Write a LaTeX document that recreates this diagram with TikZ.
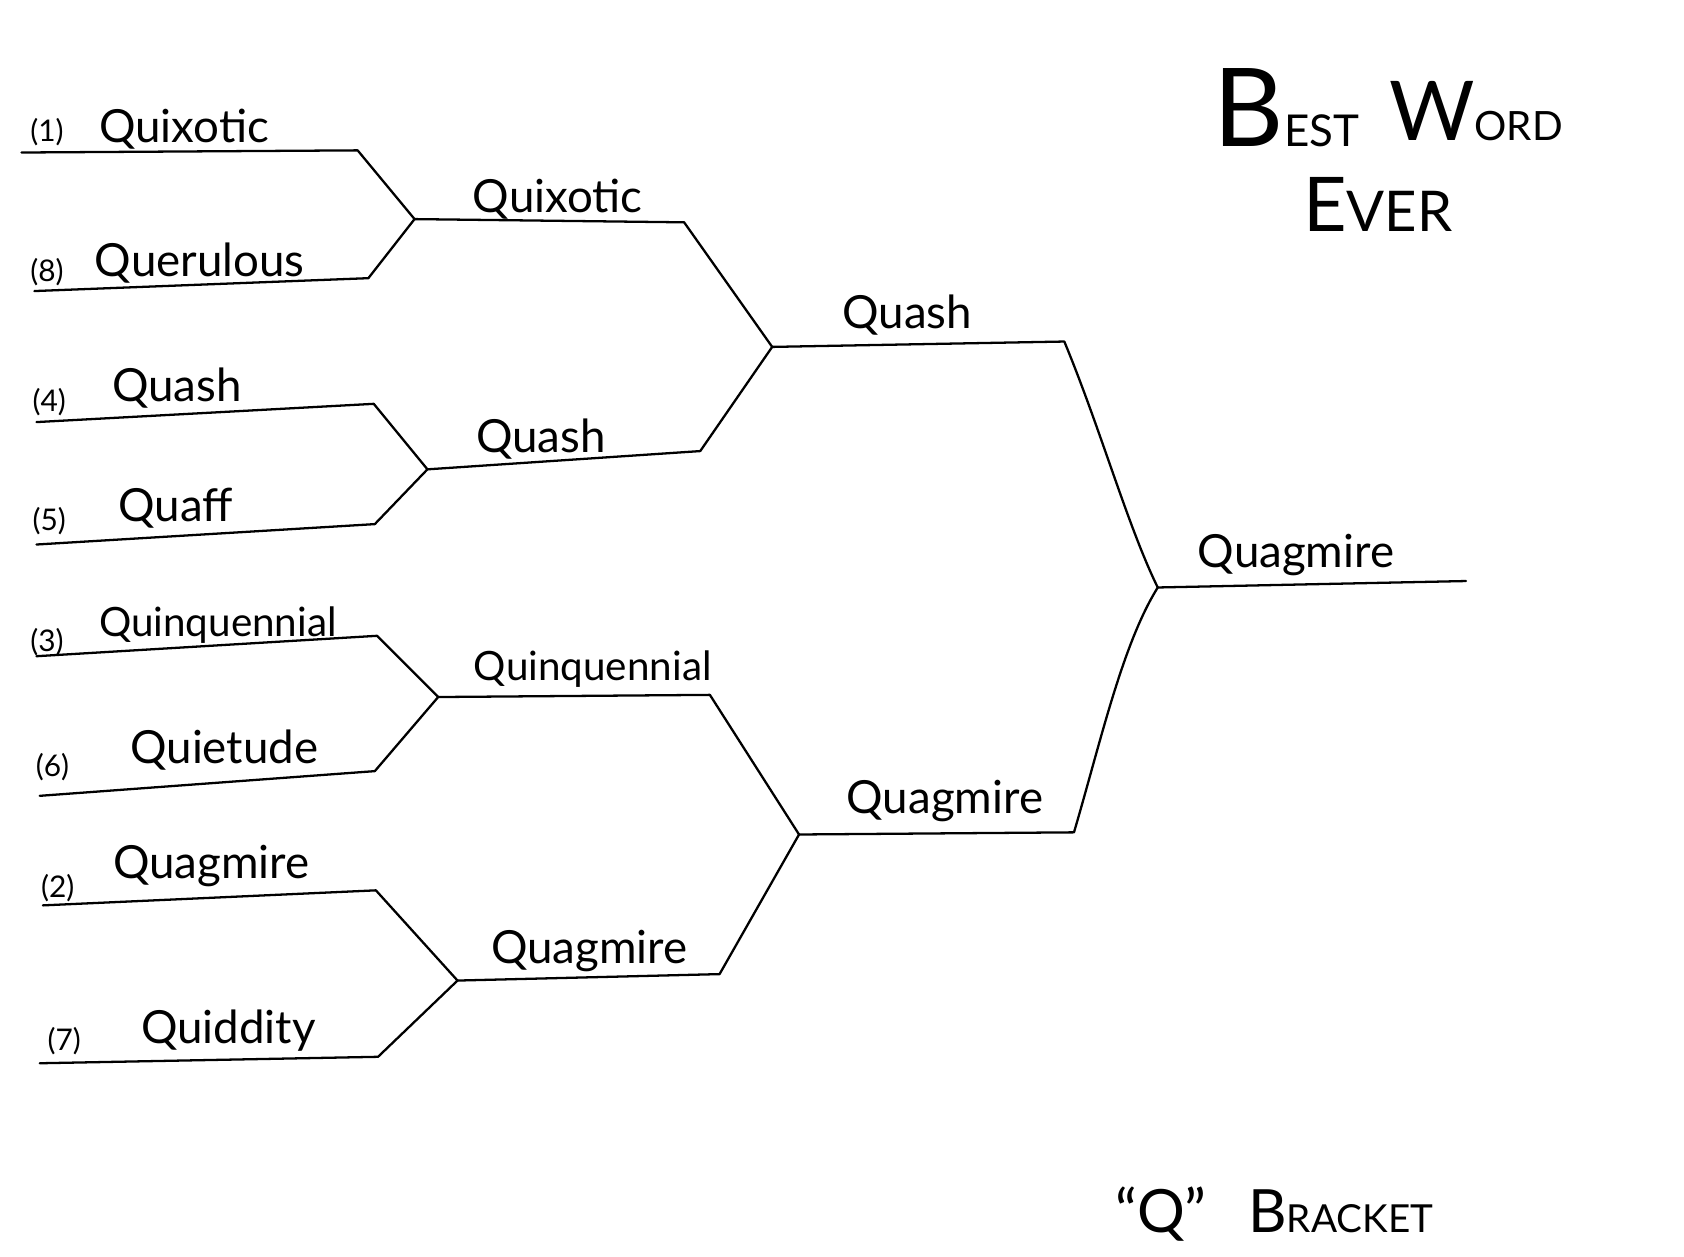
\documentclass[tikz,border=0pt]{standalone}
\usepackage{fontspec}
\setmainfont{Lato}
\begin{document}
\begin{tikzpicture}[x=0.0215cm,y=-0.0215cm,
  bline/.style={line width=1.3pt,line join=round,line cap=round},
  seed/.style={anchor=base west,inner sep=0pt,font=\fontsize{17}{20}\selectfont},
  word/.style={anchor=base west,inner sep=0pt,font=\fontsize{26}{30}\selectfont},
  wordsm/.style={anchor=base west,inner sep=0pt,font=\fontsize{23}{26}\selectfont}]
\useasboundingbox (0,0) rectangle (1568,1170);
% round 1 coordinates
\coordinate (a1) at (20,142);  \coordinate (a1e) at (333,140);
\coordinate (a8) at (32,271);  \coordinate (a8e) at (343,259);
\coordinate (j18) at (386,204);
\coordinate (a4) at (34,393);  \coordinate (a4e) at (348,376);
\coordinate (a5) at (34,507);  \coordinate (a5e) at (349,488);
\coordinate (j45) at (398,437);
\coordinate (a3) at (34,611);  \coordinate (a3e) at (351,592);
\coordinate (a6) at (37,741);  \coordinate (a6e) at (349,718);
\coordinate (j36) at (408,649);
\coordinate (a2) at (40,843);  \coordinate (a2e) at (350,829);
\coordinate (a7) at (37,990);  \coordinate (a7e) at (352,984);
\coordinate (j27) at (426,913);
% round 2
\coordinate (b1e) at (637,207);
\coordinate (b4e) at (652,420);
\coordinate (jtop) at (719,323);
\coordinate (b3e) at (661,647);
\coordinate (b2e) at (670,907);
\coordinate (jbot) at (744,777);
% round 3
\coordinate (c1e) at (991,318);
\coordinate (c2e) at (1000,775);
\coordinate (jfin) at (1078,547);
\coordinate (fin) at (1365,541);
% lines
\draw[bline] (a1) -- (a1e) -- (j18);
\draw[bline] (a8) -- (a8e) -- (j18);
\draw[bline] (a4) -- (a4e) -- (j45);
\draw[bline] (a5) -- (a5e) -- (j45);
\draw[bline] (a3) -- (a3e) -- (j36);
\draw[bline] (a6) -- (a6e) -- (j36);
\draw[bline] (a2) -- (a2e) -- (j27);
\draw[bline] (a7) -- (a7e) -- (j27);
\draw[bline] (j18) -- (b1e) -- (jtop);
\draw[bline] (j45) -- (b4e) -- (jtop);
\draw[bline] (j36) -- (b3e) -- (jbot);
\draw[bline] (j27) -- (b2e) -- (jbot);
\draw[bline] (jtop) -- (c1e) .. controls (1025,400) and (1050,490) .. (jfin);
\draw[bline] (jbot) -- (c2e) .. controls (1025,690) and (1045,600) .. (jfin);
\draw[bline] (jfin) -- (fin);
% seed labels
\node[seed] (s1) at (28,132) {(1)};
\node[word] (w1) at (92,133) {Quixotic};
\node[seed] (s8) at (28,262) {(8)};
\node[word] (w8) at (88,257) {Querulous};
\node[seed] (s4) at (30,383) {(4)};
\node[word] (w4) at (104,374) {Quash};
\node[seed] (s5) at (30,494) {(5)};
\node[word] (w5) at (110,486) {Quaff};
\node[seed] (s3) at (28,607) {(3)};
\node[wordsm] (w3) at (92,593) {Quinquennial};
\node[seed] (s6) at (33,723) {(6)};
\node[word] (w6) at (121,711) {Quietude};
\node[seed] (s2) at (38,836) {(2)};
\node[word] (w2) at (105,818) {Quagmire};
\node[seed] (s7) at (44,978) {(7)};
\node[word] (w7) at (131,972) {Quiddity};
% round 2 labels
\node[word] (r2a) at (440,198) {Quixotic};
\node[word] (r2b) at (443,421) {Quash};
\node[wordsm] (r2c) at (441,634) {Quinquennial};
\node[word] (r2d) at (457,897) {Quagmire};
% round 3 labels
\node[word] (r3a) at (784,306) {Quash};
\node[word] (r3b) at (788,757) {Quagmire};
% final
\node[word] (r4) at (1115,528) {Quagmire};
% title
\node[anchor=base west,inner sep=0pt] (t1) at (1130,136)
  {\fontsize{62}{66}\selectfont B\fontsize{25}{30}\selectfont EST};
\node[anchor=base west,inner sep=0pt] (t2) at (1293,131)
  {\fontsize{47}{52}\selectfont W\fontsize{23}{27}\selectfont ORD};
\node[anchor=base west,inner sep=0pt] (t3) at (1213,216)
  {\fontsize{43}{48}\selectfont E\fontsize{32}{36}\selectfont VER};
% footer
\node[anchor=base west,inner sep=0pt] (f1) at (1038,1148)
  {\fontsize{34}{38}\selectfont “Q”};
\node[anchor=base west,inner sep=0pt] (f2) at (1162,1148)
  {\fontsize{34}{38}\selectfont B\fontsize{22}{26}\selectfont RACKET};
\end{tikzpicture}
\end{document}
